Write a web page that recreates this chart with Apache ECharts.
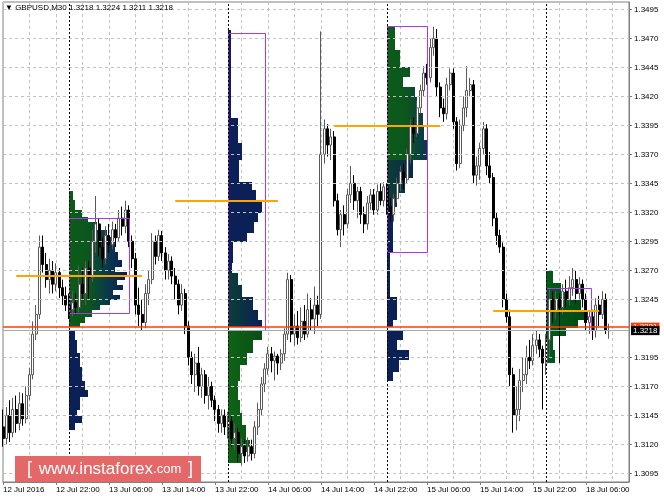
<!DOCTYPE html>
<html><head><meta charset="utf-8">
<script src="https://cdn.jsdelivr.net/npm/echarts@6/dist/echarts.min.js"></script>
<style>html,body{margin:0;padding:0;background:#fff}#c{width:664px;height:498px}</style>
</head><body><div id="c"></div>
<script>
// ---------- data ----------
const symbolName = 'GBPUSD,M30';
const yTickList = [1.3095,1.3120,1.3145,1.3170,1.3195,1.3245,1.3270,1.3295,1.3320,1.3345,1.3370,1.3395,1.3420,1.3445,1.3470,1.3495];
const xTickLabels = ['12 Jul 2016','12 Jul 22:00','13 Jul 06:00','13 Jul 14:00','13 Jul 22:00','14 Jul 06:00','14 Jul 14:00','14 Jul 22:00','15 Jul 06:00','15 Jul 14:00','15 Jul 22:00','18 Jul 06:00'];
const yMin = 1.30875, yMax = 1.35013;
const levelPrice = 1.3221;
const bidPrice = 1.3218;
const midnightIdx = [20, 68, 116, 164];
// [open, close, low, high]
const candles = [
[1.3135,1.3125,1.3118,1.3150],[1.3125,1.3145,1.3120,1.3152],[1.3145,1.3130,1.3122,1.3158],[1.3130,1.3150,1.3126,1.3160],
[1.3150,1.3138,1.3130,1.3162],[1.3138,1.3155,1.3132,1.3165],[1.3155,1.3142,1.3136,1.3164],[1.3142,1.3162,1.3138,1.3170],
[1.3162,1.3180,1.3158,1.3186],[1.3180,1.3215,1.3176,1.3226],[1.3215,1.3232,1.3210,1.3240],[1.3232,1.3290,1.3228,1.3300],
[1.3290,1.3275,1.3268,1.3300],[1.3275,1.3262,1.3255,1.3285],[1.3262,1.3270,1.3250,1.3280],[1.3270,1.3258,1.3250,1.3278],
[1.3258,1.3268,1.3252,1.3276],[1.3268,1.3255,1.3246,1.3272],[1.3255,1.3248,1.3240,1.3262],[1.3248,1.3240,1.3235,1.3256],
[1.3240,1.3236,1.3228,1.3250],[1.3236,1.3242,1.3230,1.3252],[1.3242,1.3238,1.3232,1.3250],[1.3238,1.3258,1.3234,1.3274],
[1.3258,1.3250,1.3244,1.3272],[1.3250,1.3272,1.3240,1.3278],[1.3272,1.3264,1.3245,1.3278],[1.3264,1.3295,1.3260,1.3305],
[1.3295,1.3310,1.3285,1.3334],[1.3310,1.3290,1.3282,1.3315],[1.3290,1.3280,1.3272,1.3298],[1.3280,1.3300,1.3275,1.3308],
[1.3300,1.3292,1.3285,1.3310],[1.3292,1.3305,1.3288,1.3312],[1.3305,1.3298,1.3290,1.3310],[1.3298,1.3315,1.3295,1.3322],
[1.3315,1.3308,1.3300,1.3325],[1.3308,1.3322,1.3302,1.3330],[1.3322,1.3295,1.3290,1.3326],[1.3295,1.3280,1.3272,1.3300],
[1.3280,1.3240,1.3232,1.3285],[1.3240,1.3232,1.3222,1.3255],[1.3232,1.3225,1.3218,1.3245],[1.3225,1.3250,1.3220,1.3258],
[1.3250,1.3262,1.3240,1.3270],[1.3262,1.3295,1.3258,1.3302],[1.3295,1.3282,1.3275,1.3300],[1.3282,1.3300,1.3278,1.3305],
[1.3300,1.3285,1.3278,1.3304],[1.3285,1.3270,1.3262,1.3290],[1.3270,1.3278,1.3262,1.3284],[1.3278,1.3265,1.3258,1.3282],
[1.3265,1.3258,1.3245,1.3272],[1.3258,1.3240,1.3232,1.3262],[1.3240,1.3250,1.3235,1.3258],[1.3250,1.3222,1.3215,1.3254],
[1.3222,1.3195,1.3188,1.3226],[1.3195,1.3180,1.3172,1.3200],[1.3180,1.3190,1.3165,1.3198],[1.3190,1.3170,1.3162,1.3204],
[1.3170,1.3180,1.3160,1.3186],[1.3180,1.3162,1.3155,1.3184],[1.3162,1.3170,1.3150,1.3178],[1.3170,1.3158,1.3152,1.3174],
[1.3158,1.3150,1.3140,1.3162],[1.3150,1.3138,1.3130,1.3154],[1.3138,1.3145,1.3130,1.3150],[1.3145,1.3135,1.3128,1.3150],
[1.3135,1.3140,1.3125,1.3148],[1.3140,1.3125,1.3118,1.3145],[1.3125,1.3130,1.3115,1.3138],[1.3130,1.3112,1.3105,1.3134],
[1.3112,1.3118,1.3102,1.3125],[1.3118,1.3110,1.3104,1.3124],[1.3110,1.3118,1.3105,1.3126],[1.3118,1.3112,1.3106,1.3124],
[1.3112,1.3135,1.3108,1.3140],[1.3135,1.3150,1.3128,1.3156],[1.3150,1.3172,1.3145,1.3178],[1.3172,1.3185,1.3165,1.3190],
[1.3185,1.3198,1.3180,1.3204],[1.3198,1.3192,1.3182,1.3204],[1.3192,1.3196,1.3175,1.3200],[1.3196,1.3190,1.3180,1.3198],
[1.3190,1.3198,1.3184,1.3202],[1.3198,1.3215,1.3192,1.3220],[1.3215,1.3262,1.3210,1.3268],[1.3262,1.3215,1.3208,1.3266],
[1.3215,1.3222,1.3205,1.3232],[1.3222,1.3212,1.3206,1.3235],[1.3212,1.3226,1.3208,1.3238],[1.3226,1.3215,1.3210,1.3240],
[1.3215,1.3236,1.3212,1.3250],[1.3236,1.3228,1.3218,1.3246],[1.3228,1.3240,1.3215,1.3256],[1.3240,1.3232,1.3222,1.3248],
[1.3232,1.3370,1.3228,1.3476],[1.3370,1.3392,1.3362,1.3400],[1.3392,1.3378,1.3368,1.3396],[1.3378,1.3385,1.3365,1.3392],
[1.3385,1.3330,1.3325,1.3390],[1.3330,1.3305,1.3300,1.3336],[1.3305,1.3318,1.3290,1.3322],[1.3318,1.3310,1.3300,1.3326],
[1.3310,1.3335,1.3306,1.3340],[1.3335,1.3345,1.3328,1.3360],[1.3345,1.3330,1.3322,1.3352],[1.3330,1.3338,1.3315,1.3342],
[1.3338,1.3318,1.3310,1.3342],[1.3318,1.3310,1.3302,1.3325],[1.3310,1.3328,1.3305,1.3334],[1.3328,1.3335,1.3322,1.3340],
[1.3335,1.3322,1.3318,1.3340],[1.3322,1.3338,1.3318,1.3344],[1.3338,1.3330,1.3326,1.3345],[1.3330,1.3342,1.3325,1.3346],
[1.3342,1.3325,1.3318,1.3345],[1.3325,1.3318,1.3312,1.3332],[1.3318,1.3332,1.3312,1.3336],[1.3332,1.3345,1.3328,1.3350],
[1.3345,1.3355,1.3338,1.3360],[1.3355,1.3348,1.3340,1.3362],[1.3348,1.3370,1.3345,1.3375],[1.3370,1.3395,1.3362,1.3400],
[1.3395,1.3388,1.3380,1.3402],[1.3388,1.3410,1.3385,1.3416],[1.3410,1.3425,1.3405,1.3430],[1.3425,1.3440,1.3420,1.3446],
[1.3440,1.3436,1.3430,1.3448],[1.3436,1.3462,1.3432,1.3470],[1.3462,1.3470,1.3455,1.3480],[1.3470,1.3428,1.3420,1.3478],
[1.3428,1.3410,1.3402,1.3432],[1.3410,1.3405,1.3398,1.3418],[1.3405,1.3430,1.3400,1.3436],[1.3430,1.3440,1.3425,1.3444],
[1.3440,1.3398,1.3392,1.3444],[1.3398,1.3362,1.3356,1.3402],[1.3362,1.3395,1.3358,1.3400],[1.3395,1.3410,1.3390,1.3420],
[1.3410,1.3425,1.3402,1.3446],[1.3425,1.3430,1.3420,1.3436],[1.3430,1.3352,1.3345,1.3434],[1.3352,1.3360,1.3343,1.3368],
[1.3360,1.3375,1.3348,1.3380],[1.3375,1.3392,1.3370,1.3398],[1.3392,1.3360,1.3352,1.3396],[1.3360,1.3350,1.3345,1.3372],
[1.3350,1.3315,1.3308,1.3354],[1.3315,1.3300,1.3292,1.3320],[1.3300,1.3290,1.3285,1.3305],[1.3290,1.3245,1.3238,1.3294],
[1.3245,1.3230,1.3225,1.3250],[1.3230,1.3180,1.3170,1.3236],[1.3180,1.3145,1.3130,1.3186],[1.3145,1.3150,1.3132,1.3170],
[1.3150,1.3175,1.3140,1.3185],[1.3175,1.3180,1.3165,1.3195],[1.3180,1.3195,1.3172,1.3205],[1.3195,1.3192,1.3185,1.3210],
[1.3192,1.3205,1.3188,1.3215],[1.3205,1.3210,1.3198,1.3218],[1.3210,1.3202,1.3195,1.3215],[1.3202,1.3190,1.3150,1.3205],
[1.3190,1.3210,1.3180,1.3215],[1.3210,1.3245,1.3195,1.3255],[1.3245,1.3235,1.3225,1.3252],[1.3235,1.3245,1.3228,1.3252],
[1.3245,1.3238,1.3190,1.3250],[1.3238,1.3252,1.3232,1.3258],[1.3252,1.3245,1.3238,1.3262],[1.3245,1.3255,1.3240,1.3265],
[1.3255,1.3262,1.3248,1.3272],[1.3262,1.3250,1.3242,1.3270],[1.3250,1.3258,1.3245,1.3264],[1.3258,1.3245,1.3238,1.3262],
[1.3245,1.3225,1.3218,1.3250],[1.3225,1.3230,1.3215,1.3234],[1.3230,1.3218,1.3210,1.3236],[1.3218,1.3240,1.3212,1.3246],
[1.3240,1.3232,1.3222,1.3248],[1.3232,1.3245,1.3228,1.3252],[1.3245,1.3218,1.3215,1.3250],[1.3218,1.3218,1.3211,1.3224]
];
// market profiles: [low, high, widthInBars, mode]
// mode 0 = green->navy time gradient, 1 = navy, 2 = green, 3 = dark green, 4 = teal->navy
const profileStarts = [20, 68, 116, 164];
const profile1 = [
[1.3331,1.3338,1.2,0],[1.3322,1.3331,1.8,0],[1.3316,1.3322,3.9,0],[1.3312,1.3316,5.7,0],[1.3305,1.3312,8.5,0],
[1.3299,1.3305,11.5,0],[1.3294,1.3299,13.0,0],[1.3286,1.3294,13.9,0],[1.3279,1.3286,14.8,0],[1.3273,1.3279,16.0,0],
[1.32685,1.3273,13.9,0],[1.3266,1.32685,17.5,0],[1.3262,1.3266,16.9,0],[1.3257,1.3262,14.5,0],[1.3253,1.3257,16.3,0],
[1.3249,1.3253,13.3,0],[1.3244,1.3249,15.4,0],[1.3240,1.3244,12.4,0],[1.3236,1.3240,9.4,0],[1.3230,1.3236,6.9,0],
[1.3225,1.3230,4.8,0],[1.3221,1.3225,3.3,0],
[1.3210,1.3218,1.8,1],[1.3199,1.3210,2.4,1],[1.3187,1.3199,3.3,1],[1.3175,1.3187,3.9,1],[1.3167,1.3175,4.8,1],
[1.3161,1.3167,5.7,1],[1.3150,1.3161,3.3,1],[1.3144,1.3150,2.4,1],[1.3138,1.3144,3.9,1],[1.3132,1.3138,1.8,1]
];
const profile2 = [
[1.3401,1.3477,0.9,1],[1.3380,1.3401,3.0,1],[1.3365,1.3380,4.2,1],[1.3346,1.3365,3.3,1],[1.3339,1.3346,7.2,1],
[1.3331,1.3339,8.5,1],[1.3319,1.3331,10.3,1],[1.3312,1.3319,9.1,1],[1.3302,1.3312,7.9,1],[1.3294,1.3302,5.7,1],
[1.3276,1.3294,1.5,1],[1.3268,1.3276,1.2,1],[1.3257,1.3268,3.0,4],[1.3247,1.3257,4.2,4],[1.3236,1.3247,7.5,4],
[1.3227,1.3236,9.1,4],[1.3221,1.3227,10.3,4],
[1.3210,1.3218,10.3,2],[1.3199,1.3210,7.5,2],[1.3188,1.3199,5.7,2],[1.3175,1.3188,3.6,2],[1.3158,1.3175,3.0,2],
[1.3147,1.3158,3.6,2],[1.3137,1.3147,4.2,2],[1.3124,1.3137,5.4,2],[1.3113,1.3124,6.6,2],[1.3104,1.3113,4.2,2]
];
const profile3 = [
[1.3460,1.3481,2.4,0],[1.3445,1.3460,3.9,0],[1.3437,1.3445,6.9,0],[1.3428,1.3437,4.8,0],[1.3419,1.3428,8.5,0],
[1.3406,1.3419,9.1,0],[1.3394,1.3406,10.9,0],[1.3382,1.3394,11.2,0],[1.3365,1.3382,12.1,0],[1.3350,1.3365,7.9,4],
[1.3337,1.3350,5.4,4],[1.3325,1.3337,3.0,4],[1.3285,1.3325,1.8,1],[1.3247,1.3285,0.9,1],[1.3227,1.3247,3.0,1],
[1.3221,1.3227,1.8,1],
[1.3210,1.3218,4.8,1],[1.3201,1.3210,3.0,1],[1.3193,1.3201,6.6,1],[1.3182,1.3193,3.6,1],[1.3175,1.3182,1.8,1]
];
const profile4 = [
[1.3259,1.3269,2.1,3],[1.3251,1.3259,4.5,3],[1.3244,1.3251,7.5,3],[1.3236,1.3244,10.6,3],[1.3227,1.3236,12.7,3],
[1.3220,1.3227,9.7,3],[1.3213,1.3220,6.0,3],[1.3201,1.3213,2.1,3],[1.3190,1.3201,2.7,3]
];
const profiles = [profile1, profile2, profile3, profile4];
// value areas: [startIdx, endIdx, low, high]
const valueAreas = [[20,38.1,1.3233,1.3315],[68,79.1,1.3219,1.3475],[116,128.1,1.3286,1.3481],[164,177.5,1.3219,1.3255]];
// point of control lines: [startIdx, endIdx, price]
const pocLines = [[4,42,1.3265],[52,83,1.3330],[100,132,1.3394],[148,180,1.3235]];

// ---------- categories (M30 bar times, weekend skipped) ----------
const months = ['Jan','Feb','Mar','Apr','May','Jun','Jul','Aug','Sep','Oct','Nov','Dec'];
const categories = [];
(function () {
  let t = Date.UTC(2016, 6, 12, 14, 0);
  const wkS = Date.UTC(2016, 6, 16, 0, 0), wkE = Date.UTC(2016, 6, 18, 0, 0);
  while (categories.length < 190) {
    if (t >= wkS && t < wkE) t = wkE;
    const d = new Date(t);
    categories.push(d.getUTCDate() + ' ' + months[d.getUTCMonth()] + ' ' +
      String(d.getUTCHours()).padStart(2, '0') + ':' + String(d.getUTCMinutes()).padStart(2, '0'));
    t += 1800000;
  }
})();

const FONT = 'Liberation Sans';
const last = candles[candles.length - 1];
const headerVals = [last[0], last[3], last[2], last[1]].map(v => v.toFixed(4)).join(' ');

function profileRender(params, api) {
  const s = api.value(0), lo = api.value(1), hi = api.value(2), w = api.value(3), mode = api.value(4);
  const bw = api.size([1, 0])[0];
  const a = api.coord([s, hi]), b = api.coord([s, lo]);
  const x = Math.round(a[0]), y = Math.round(a[1]), y2 = Math.round(b[1]);
  const width = Math.max(1, Math.round(w * bw));
  let fill;
  if (mode === 0) {
    fill = new echarts.graphic.LinearGradient(x, 0, x + 58, 0, [
      {offset: 0, color: '#0c5c18'}, {offset: 0.35, color: '#0b561e'},
      {offset: 0.62, color: '#0a3c48'}, {offset: 1, color: '#0a1c5a'}], true);
  } else if (mode === 1) fill = '#0a2056';
  else if (mode === 2) fill = new echarts.graphic.LinearGradient(x, 0, x + 34, 0, [
      {offset: 0, color: '#0d6514'}, {offset: 1, color: '#0a4d18'}], true);
  else if (mode === 3) fill = new echarts.graphic.LinearGradient(x, 0, x + 42, 0, [
      {offset: 0, color: '#005c1c'}, {offset: 1, color: '#004814'}], true);
  else fill = new echarts.graphic.LinearGradient(x, 0, x + 34, 0, [
      {offset: 0, color: '#0b3f35'}, {offset: 1, color: '#0a2058'}], true);
  return {type: 'rect', shape: {x: x, y: y, width: width, height: Math.max(1, y2 - y)}, style: {fill: fill}};
}
function areaRender(params, api) {
  const s = api.value(0), e = api.value(1), lo = api.value(2), hi = api.value(3);
  const bw = api.size([1, 0])[0];
  const a = api.coord([s, hi]), b = api.coord([s, lo]);
  const x = Math.round(a[0]) + 0.5, y = Math.round(a[1]) + 0.5;
  return {type: 'rect', shape: {x: x, y: y, width: Math.round((e - s) * bw), height: Math.round(b[1] - a[1])},
    style: {fill: 'none', stroke: '#a838e8', lineWidth: 1}};
}
function pocRender(params, api) {
  const s = api.value(0), e = api.value(1), p = api.value(2);
  const bw = api.size([1, 0])[0];
  const a = api.coord([s, p]);
  const y = Math.round(a[1]);
  return {type: 'line', shape: {x1: a[0], y1: y, x2: a[0] + (e - s) * bw, y2: y},
    style: {stroke: '#ffa500', lineWidth: 2}};
}

const series = [];
profiles.forEach((pr, k) => {
  series.push({
    type: 'custom', z: 1, silent: true, renderItem: profileRender,
    data: pr.map(r => [profileStarts[k], r[0], r[1], r[2], r[3]]),
    encode: {x: 0, y: [1, 2]}
  });
});
series.push({
  type: 'line', z: 2, data: categories.map(() => null), silent: true, showSymbol: false,
  markLine: {
    silent: true, symbol: ['none', 'none'], animation: false, precision: 6, label: {show: false},
    data: yTickList.map(v => ({yAxis: v, lineStyle: {type: [3, 3], color: '#c2c2c2', width: 1}}))
      .concat(midnightIdx.map(i => ({xAxis: categories[i], lineStyle: {type: [2, 2], color: '#000', width: 1}})))
  }
});
series.push({
  type: 'candlestick', z: 3, data: candles, barWidth: 2.5, silent: true,
  itemStyle: {color: '#ffffff', color0: '#000000', borderColor: '#5a5a5a', borderColor0: '#000000', borderWidth: 1}
});
series.push({type: 'custom', z: 4, silent: true, renderItem: areaRender, data: valueAreas, encode: {x: 0, y: [2, 3]}});
series.push({type: 'custom', z: 5, silent: true, renderItem: pocRender, data: pocLines, encode: {x: 0, y: 2}});
// horizontal level line (orange-red) with its price box
series.push({
  type: 'line', z: 6, data: categories.map(() => null), silent: true, showSymbol: false,
  markLine: {
    silent: true, symbol: ['none', 'none'], animation: false, precision: 6,
    lineStyle: {type: 'solid', color: '#ff3c0a', width: 1.5},
    label: {show: true, position: 'end', distance: 2, formatter: levelPrice.toFixed(4), color: '#fff',
      backgroundColor: '#ff3c0a', padding: [1, 2, 0, 2], fontSize: 8, fontFamily: FONT},
    data: [{yAxis: levelPrice}]
  }
});
// bid line (gray) with black price box
series.push({
  type: 'line', z: 7, data: categories.map(() => null), silent: true, showSymbol: false,
  markLine: {
    silent: true, symbol: ['none', 'none'], animation: false, precision: 6,
    lineStyle: {type: 'solid', color: '#a8a8a8', width: 1},
    label: {show: true, position: 'end', distance: 2, formatter: bidPrice.toFixed(4), color: '#fff',
      backgroundColor: '#000', padding: [1, 2, 0, 2], fontSize: 8, fontFamily: FONT},
    data: [{yAxis: bidPrice}]
  }
});

const chart = echarts.init(document.getElementById('c'), null, {renderer: 'canvas'});
chart.setOption({
  animation: false,
  backgroundColor: '#ffffff',
  textStyle: {fontFamily: FONT},
  title: [
    {text: '\u25BC ' + symbolName, left: 5, top: 4, padding: 0, textStyle: {fontSize: 8, fontWeight: 'normal', color: '#000', fontFamily: FONT}},
    {text: headerVals, left: 69, top: 4, padding: 0, textStyle: {fontSize: 8, fontWeight: 'normal', color: '#000', fontFamily: FONT}}
  ],
  grid: {left: 3, right: 35, top: 2, bottom: 16, show: true, borderColor: '#808080', borderWidth: 1},
  xAxis: {
    type: 'category', data: categories, boundaryGap: false,
    axisLine: {lineStyle: {color: '#808080'}},
    axisTick: {show: true, interval: (i) => i % 16 === 0, length: 3, lineStyle: {color: '#808080'}},
    axisLabel: {interval: (i) => i % 16 === 0, formatter: (v, i) => xTickLabels[i / 16] || '',
      align: 'left', fontSize: 8, color: '#000', margin: 4, fontFamily: FONT},
    splitLine: {show: true, interval: (i) => i % 8 === 0, lineStyle: {type: [3, 3], color: '#c2c2c2', width: 1}}
  },
  yAxis: {
    type: 'value', position: 'right', min: yMin, max: yMax, scale: true,
    axisLine: {show: true, lineStyle: {color: '#808080'}},
    axisTick: {show: true, customValues: yTickList, length: 3, lineStyle: {color: '#808080'}},
    axisLabel: {customValues: yTickList, formatter: (v) => v.toFixed(4), fontSize: 8, color: '#000', margin: 5, fontFamily: FONT},
    splitLine: {show: false}
  },
  graphic: [
    {type: 'rect', z: 100, shape: {x: 15, y: 456, width: 186, height: 26}, style: {fill: '#e46868'}},
    {type: 'text', z: 101, x: 110, y: 469, style: {
      text: '{a|[}  {b|www.instaforex}{c|.com}  {a|]}', align: 'center', verticalAlign: 'middle', fill: '#fff',
      rich: {a: {fontSize: 18, fill: '#fff', fontFamily: FONT}, b: {fontSize: 17, fill: '#fff', fontFamily: FONT},
        c: {fontSize: 13, fill: '#fff', fontFamily: FONT}}
    }}
  ],
  series: series
});
</script>
</body></html>
